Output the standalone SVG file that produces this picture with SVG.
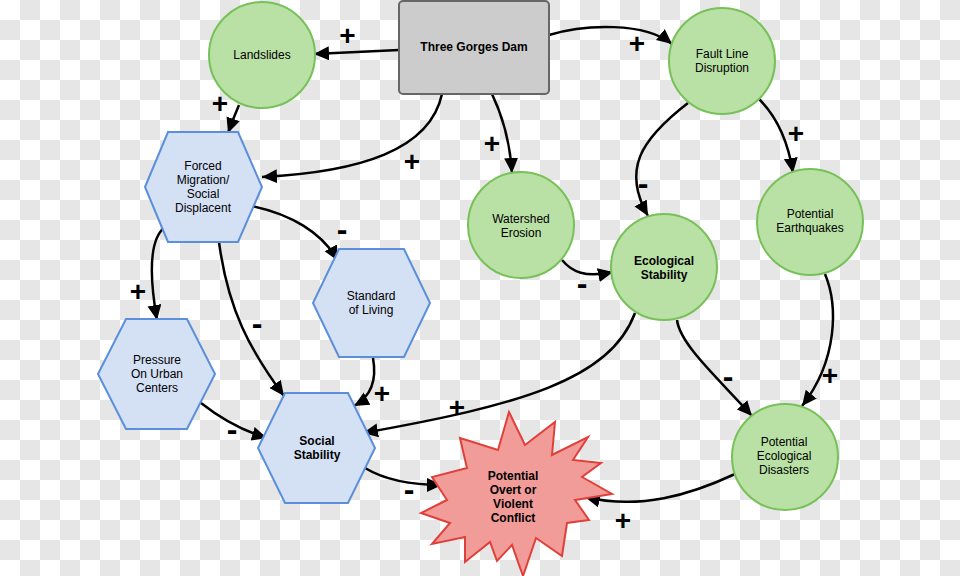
<svg xmlns="http://www.w3.org/2000/svg" width="960" height="576" viewBox="0 0 960 576">
<defs>
<marker id="arr" markerUnits="userSpaceOnUse" markerWidth="16" markerHeight="16" refX="15" refY="7" orient="auto">
<path d="M0,0 L15,7 L0,14 Z" fill="#000"/>
</marker>
<style>
.c{fill:#b9e0a5;stroke:#77c158;stroke-width:2}
.h{fill:#d4e1f5;stroke:#5b8fdb;stroke-width:2}
.t{font-family:"Liberation Sans",Arial,sans-serif;font-size:12px;fill:#000;text-anchor:middle}
.b{font-weight:bold}
.e{fill:none;stroke:#000;stroke-width:2.5;marker-end:url(#arr)}
.p{font-family:"Liberation Sans",Arial,sans-serif;font-size:28px;font-weight:bold;fill:#000;text-anchor:middle}
.m{font-family:"Liberation Sans",Arial,sans-serif;font-size:32px;font-weight:bold;fill:#000;text-anchor:middle}
</style>
</defs>
<rect width="960" height="576" fill="#ffffff"/>
<g id="background">
<path stroke="#e6e6e6" stroke-width="20" stroke-dasharray="20,20" fill="none" d="M20,10H960 M0,30H960 M20,50H960 M0,70H960 M20,90H960 M0,110H960 M20,130H960 M0,150H960 M20,170H960 M0,190H960 M20,210H960 M0,230H960 M20,250H960 M0,270H960 M20,290H960 M0,310H960 M20,330H960 M0,350H960 M20,370H960 M0,390H960 M20,410H960 M0,430H960 M20,450H960 M0,470H960 M20,490H960 M0,510H960 M20,530H960 M0,550H960 M20,570H960"/>
</g>

<g id="connectors">
<path class="e" d="M399,50 L314,54"/>
<path class="e" d="M549,35 C585,24 645,22 672,44"/>
<path class="e" d="M442,94 C430,150 360,172 262,177"/>
<path class="e" d="M492,94 C502,115 510,140 512,173"/>
<path class="e" d="M239,105 C236,112 232,122 228,133"/>
<path class="e" d="M688,103 C640,140 622,170 648,216"/>
<path class="e" d="M759,99 C775,115 788,140 793,173"/>
<path class="e" d="M562,260 C572,272 585,278 613,272"/>
<path class="e" d="M252,206 C290,214 322,232 338,261"/>
<path class="e" d="M165,227 C148,240 150,280 157,320"/>
<path class="e" d="M219,242 C228,310 250,350 284,396"/>
<path class="e" d="M373,358 C377,380 372,396 354,406"/>
<path class="e" d="M201,403 C220,418 240,430 267,438"/>
<path class="e" d="M635,313 C610,380 520,405 363,433"/>
<path class="e" d="M677,320 C680,345 720,380 752,416"/>
<path class="e" d="M825,274 C838,305 838,360 802,406"/>
<path class="e" d="M365,468 C385,480 410,485 442,485"/>
<path class="e" d="M735,474 C690,495 640,510 585,497"/>
</g>

<g id="labels">
<text class="p" x="347.5" y="45">+</text>
<text class="p" x="637" y="53">+</text>
<text class="p" x="412" y="171">+</text>
<text class="p" x="492" y="153">+</text>
<text class="p" x="220" y="113">+</text>
<text class="m" x="643" y="194">-</text>
<text class="p" x="796" y="143">+</text>
<text class="m" x="582" y="294">-</text>
<text class="m" x="342" y="240">-</text>
<text class="p" x="138" y="301">+</text>
<text class="m" x="257" y="334">-</text>
<text class="p" x="382" y="403">+</text>
<text class="m" x="232" y="440">-</text>
<text class="m" x="409" y="500">-</text>
<text class="p" x="457" y="417">+</text>
<text class="m" x="728" y="387">-</text>
<text class="p" x="830" y="385">+</text>
<text class="p" x="623" y="530">+</text>
</g>

<g id="dam">
<rect x="399" y="1" width="150" height="93" rx="4" fill="#cccccc" stroke="#666666" stroke-width="2"/>
<text class="t b" x="474" y="51">Three Gorges Dam</text>
</g>

<g id="landslides">
<circle class="c" cx="262" cy="55" r="53"/>
<text class="t" x="262" y="59">Landslides</text>
</g>

<g id="fault">
<circle class="c" cx="722" cy="61" r="53"/>
<text class="t" x="722" y="58">Fault Line</text>
<text class="t" x="722" y="72">Disruption</text>
</g>

<g id="earthquakes">
<circle class="c" cx="810" cy="222" r="53"/>
<text class="t" x="810" y="218">Potential</text>
<text class="t" x="810" y="232">Earthquakes</text>
</g>

<g id="watershed">
<circle class="c" cx="521" cy="225" r="53"/>
<text class="t" x="521" y="223">Watershed</text>
<text class="t" x="521" y="237">Erosion</text>
</g>

<g id="ecological">
<circle class="c" cx="664" cy="267" r="53"/>
<text class="t b" x="664" y="265">Ecological</text>
<text class="t b" x="664" y="279">Stability</text>
</g>

<g id="disasters">
<circle class="c" cx="785" cy="457" r="53"/>
<text class="t" x="784" y="446">Potential</text>
<text class="t" x="784" y="460">Ecological</text>
<text class="t" x="784" y="474">Disasters</text>
</g>

<g id="forced">
<polygon class="h" points="145,187 168,132 238,132 262,187 238,242 168,242"/>
<text class="t" x="203" y="170">Forced</text>
<text class="t" x="203" y="184">Migration/</text>
<text class="t" x="203" y="198">Social</text>
<text class="t" x="203" y="212">Displacent</text>
</g>

<g id="standard">
<polygon class="h" points="313,303 339,249 404,249 430,303 404,357 339,357"/>
<text class="t" x="371" y="300">Standard</text>
<text class="t" x="371" y="314">of Living</text>
</g>

<g id="pressure">
<polygon class="h" points="98,374 126,319 187,319 215,374 187,429 126,429"/>
<text class="t" x="157" y="364">Pressure</text>
<text class="t" x="157" y="378">On Urban</text>
<text class="t" x="157" y="392">Centers</text>
</g>

<g id="social">
<polygon class="h" points="258,448 285,393 348,393 375,448 348,503 285,503"/>
<text class="t b" x="317" y="445">Social</text>
<text class="t b" x="317" y="459">Stability</text>
</g>

<g id="conflict">
<polygon points="509,412 525,445 555,422 552,455 588,437 573,460 601,463 582,477 612,494 575,500 589,520 567,523 562,556 536,538 523,576 512,545 497,561 490,542 465,562 465,537 432,544 450,523 421,513 447,500 432,477 467,468 460,438 498,450" fill="#f19c99" stroke="#e0403a" stroke-width="2"/>
<text class="t b" x="513" y="480">Potential</text>
<text class="t b" x="513" y="494">Overt or</text>
<text class="t b" x="513" y="508">Violent</text>
<text class="t b" x="513" y="522">Conflict</text>
</g>
</svg>
